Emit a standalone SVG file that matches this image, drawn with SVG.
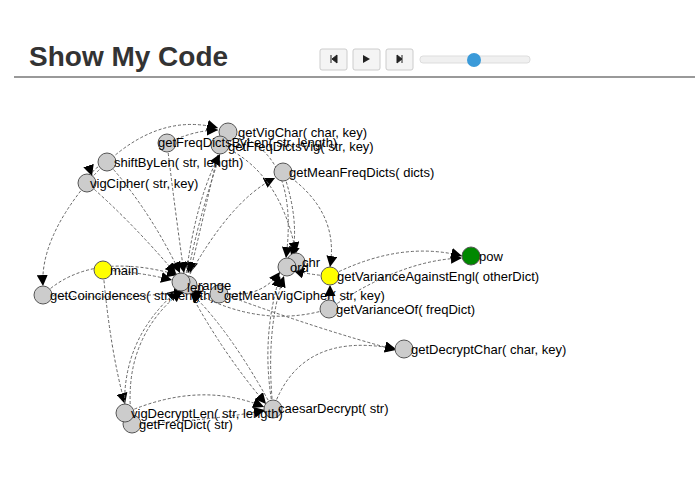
<svg xmlns="http://www.w3.org/2000/svg" width="695" height="494" viewBox="0 0 695 494">
<style>
text{font-family:"Liberation Sans",Arial,sans-serif;font-size:13px;fill:#000}
.n{fill:#ccc;stroke:#555;stroke-width:1}
.y{fill:#ff0;stroke:#555}
.g{fill:#080;stroke:#555}
#edges path{fill:none;stroke:#666;stroke-width:1;stroke-dasharray:3,2;marker-end:url(#a)}
.btn{fill:#f4f4f4;stroke:#ccc}
</style>
<defs>
<marker id="a" viewBox="0 0 10 10" refX="10" refY="5" markerWidth="11" markerHeight="11" markerUnits="userSpaceOnUse" orient="auto"><path d="M0,0L10,5L0,10z" fill="#000"/></marker>
<linearGradient id="bg" x1="0" y1="0" x2="0" y2="1"><stop offset="0" stop-color="#fff"/><stop offset="1" stop-color="#e6e6e6"/></linearGradient>
</defs>
<rect width="695" height="494" fill="#fff"/>
<g id="header">
<text x="29" y="66" style="font-size:28px;font-weight:bold;fill:#333">Show My Code</text>
<line x1="14" y1="77" x2="695" y2="77" stroke="#777" stroke-width="1.5"/>
<rect class="btn" x="320" y="49" width="27" height="21" rx="2" fill="url(#bg)"/>
<rect class="btn" x="353" y="49" width="27" height="21" rx="2" fill="url(#bg)"/>
<rect class="btn" x="386" y="49" width="27" height="21" rx="2" fill="url(#bg)"/>
<path d="M331,55v8M332,59l5,-4v8z" stroke="#222" fill="#222"/>
<path d="M363,55l7,4l-7,4z" fill="#222"/>
<path d="M397,55l5,4l-5,4zM402,55v8" stroke="#222" fill="#222"/>
<rect x="420" y="56" width="110" height="7" rx="3" fill="#f0f0f0" stroke="#ddd"/>
<circle cx="474" cy="60" r="7" fill="#3a9ad9"/>
</g>
<g id="edges">
<path d="M103,270Q140,272 172,280"/>
<path d="M103,270Q110,350 125,404"/>
<path d="M43,295Q90,250 178,275"/>
<path d="M87,183Q40,240 43,286"/>
<path d="M87,183Q130,220 176,274"/>
<path d="M107,162Q150,210 180,273"/>
<path d="M107,162Q90,170 92,176"/>
<path d="M167,143Q175,210 184,273"/>
<path d="M167,143Q195,130 218,130"/>
<path d="M228,132Q200,210 188,273"/>
<path d="M220,145Q205,210 190,273"/>
<path d="M185,283Q195,200 220,154"/>
<path d="M185,283Q230,200 275,178"/>
<path d="M283,172Q300,220 292,258"/>
<path d="M228,132Q300,150 286,258"/>
<path d="M220,145Q280,170 296,253"/>
<path d="M87,183Q150,110 218,128"/>
<path d="M283,172Q340,210 330,267"/>
<path d="M330,276Q400,240 462,256"/>
<path d="M329,309Q400,260 462,258"/>
<path d="M329,309Q260,330 190,290"/>
<path d="M329,309Q330,295 330,285"/>
<path d="M273,409Q300,330 396,349"/>
<path d="M220,293Q320,330 396,350"/>
<path d="M273,409Q260,340 280,276"/>
<path d="M273,409Q265,330 284,276"/>
<path d="M125,413Q200,380 264,407"/>
<path d="M125,413Q120,340 178,290"/>
<path d="M132,424Q120,340 182,291"/>
<path d="M132,424Q220,420 265,410"/>
<path d="M185,283Q220,350 266,404"/>
<path d="M43,295Q110,300 185,292"/>
<path d="M220,293Q260,300 280,272"/>
<path d="M330,276Q310,275 293,270"/>
<path d="M273,409Q230,330 190,292"/>
</g>
<g id="n-getVigChar"><circle class="n" cx="228" cy="132" r="9"/><text x="238" y="137">getVigChar( char, key)</text></g>
<g id="n-getFreqDictsVig"><circle class="n" cx="220" cy="145" r="9"/><text x="228" y="151">getFreqDictsVig( str, key)</text></g>
<g id="n-getFreqDictsByLen"><circle class="n" cx="167" cy="143" r="9"/><text x="158" y="147">getFreqDictsByLen( str, length)</text></g>
<g id="n-shiftByLen"><circle class="n" cx="107" cy="162" r="9"/><text x="114" y="167">shiftByLen( str, length)</text></g>
<g id="n-vigCipher"><circle class="n" cx="87" cy="183" r="9"/><text x="90" y="188">vigCipher( str, key)</text></g>
<g id="n-getMeanFreqDicts"><circle class="n" cx="283" cy="172" r="9"/><text x="289" y="177">getMeanFreqDicts( dicts)</text></g>
<g id="n-main"><circle class="y" cx="103" cy="270" r="9"/><text x="110" y="275">main</text></g>
<g id="n-getCoincidences"><circle class="n" cx="43" cy="295" r="9"/><text x="50" y="300">getCoincidences( str, length)</text></g>
<g id="n-getMeanVigCipher"><circle class="n" cx="219" cy="294" r="9"/><text x="224" y="300">getMeanVigCipher( str, key)</text></g>
<g id="n-range"><circle class="n" cx="188" cy="285" r="9"/><text x="198" y="290">range</text></g>
<g id="n-len"><circle class="n" cx="181" cy="282" r="9"/><text x="187" y="292">len</text></g>
<g id="n-chr"><circle class="n" cx="296" cy="262" r="9"/><text x="302" y="267">chr</text></g>
<g id="n-ord"><circle class="n" cx="287" cy="267" r="9"/><text x="290" y="272">ord</text></g>
<g id="n-pow"><circle class="g" cx="471" cy="256" r="9"/><text x="479" y="261">pow</text></g>
<g id="n-getVarianceAgainstEngl"><circle class="y" cx="330" cy="276" r="9"/><text x="337" y="281">getVarianceAgainstEngl( otherDict)</text></g>
<g id="n-getVarianceOf"><circle class="n" cx="329" cy="309" r="9"/><text x="336" y="314">getVarianceOf( freqDict)</text></g>
<g id="n-getDecryptChar"><circle class="n" cx="404" cy="349" r="9"/><text x="411" y="354">getDecryptChar( char, key)</text></g>
<g id="n-caesarDecrypt"><circle class="n" cx="273" cy="409" r="9"/><text x="278" y="413">caesarDecrypt( str)</text></g>
<g id="n-getFreqDict"><circle class="n" cx="132" cy="424" r="9"/><text x="139" y="429">getFreqDict( str)</text></g>
<g id="n-vigDecryptLen"><circle class="n" cx="125" cy="413" r="9"/><text x="131" y="418">vigDecryptLen( str, length)</text></g>
</svg>
